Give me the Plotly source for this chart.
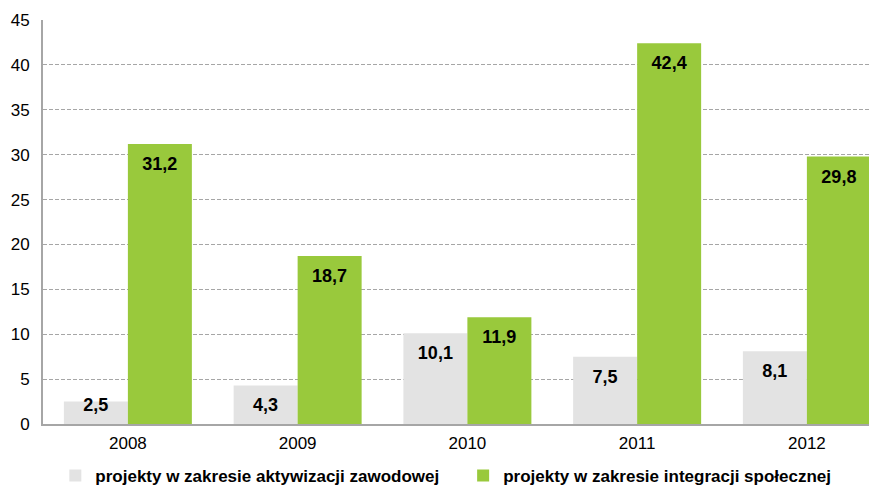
import plotly.graph_objects as go

years = ["2008", "2009", "2010", "2011", "2012"]
aktywizacja = [2.5, 4.3, 10.1, 7.5, 8.1]
integracja = [31.2, 18.7, 11.9, 42.4, 29.8]
name_a = "projekty w zakresie aktywizacji zawodowej"
name_i = "projekty w zakresie integracji społecznej"
label_a = ["2,5", "4,3", "10,1", "7,5", "8,1"]
label_i = ["31,2", "18,7", "11,9", "42,4", "29,8"]

GRAY = "#e3e3e3"
GREEN = "#99c93c"
BW = 0.377
idx = list(range(len(years)))
xa = [i - BW / 2 for i in idx]
xi = [i + BW / 2 for i in idx]

def label_y(v):
    return max(v - 2.4, 1.9)

FONT = "Liberation Sans, Arial"
fig = go.Figure()
fig.add_trace(go.Bar(x=xa, y=aktywizacja, width=BW, name=name_a + "\u00a0" * 4,
                     marker=dict(color=GRAY, line=dict(width=0))))
fig.add_trace(go.Bar(x=xi, y=integracja, width=BW, name=name_i,
                     marker=dict(color=GREEN, line=dict(width=0))))
fig.add_trace(go.Scatter(x=xa, y=[label_y(v) for v in aktywizacja], text=label_a,
                         mode="text", showlegend=False, hoverinfo="skip",
                         textfont=dict(family=FONT, size=18, color="#000000", weight="bold")))
fig.add_trace(go.Scatter(x=xi, y=[label_y(v) for v in integracja], text=label_i,
                         mode="text", showlegend=False, hoverinfo="skip",
                         textfont=dict(family=FONT, size=18, color="#000000", weight="bold")))

fig.update_layout(
    width=877, height=488,
    margin=dict(l=35, r=8, t=12, b=72, autoexpand=False),
    paper_bgcolor="white", plot_bgcolor="white",
    barmode="overlay",
    font=dict(family=FONT, size=16, color="#000000"),
    showlegend=True,
    legend=dict(orientation="h", x=0.483, xanchor="center", y=-52 / 404, yanchor="middle",
                font=dict(family=FONT, size=17, color="#000000", weight="bold"),
                itemwidth=30, tracegroupgap=0, bgcolor="rgba(0,0,0,0)"),
    xaxis=dict(range=[-0.5, 4.413], tickvals=idx, ticktext=years, showgrid=False,
               zeroline=False, showline=True, linecolor="#a6a6a6", linewidth=2,
               ticks="", ticklabelstandoff=3, tickfont=dict(size=17), automargin=False),
    yaxis=dict(range=[0, 45], dtick=5, showgrid=True, gridcolor="#a6a6a6", griddash="4px,2px",
               gridwidth=1, zeroline=False, showline=True, linecolor="#a6a6a6", linewidth=2,
               ticks="", ticklabelstandoff=8, tickfont=dict(size=17), automargin=False),
)

fig.write_html("out.html")
